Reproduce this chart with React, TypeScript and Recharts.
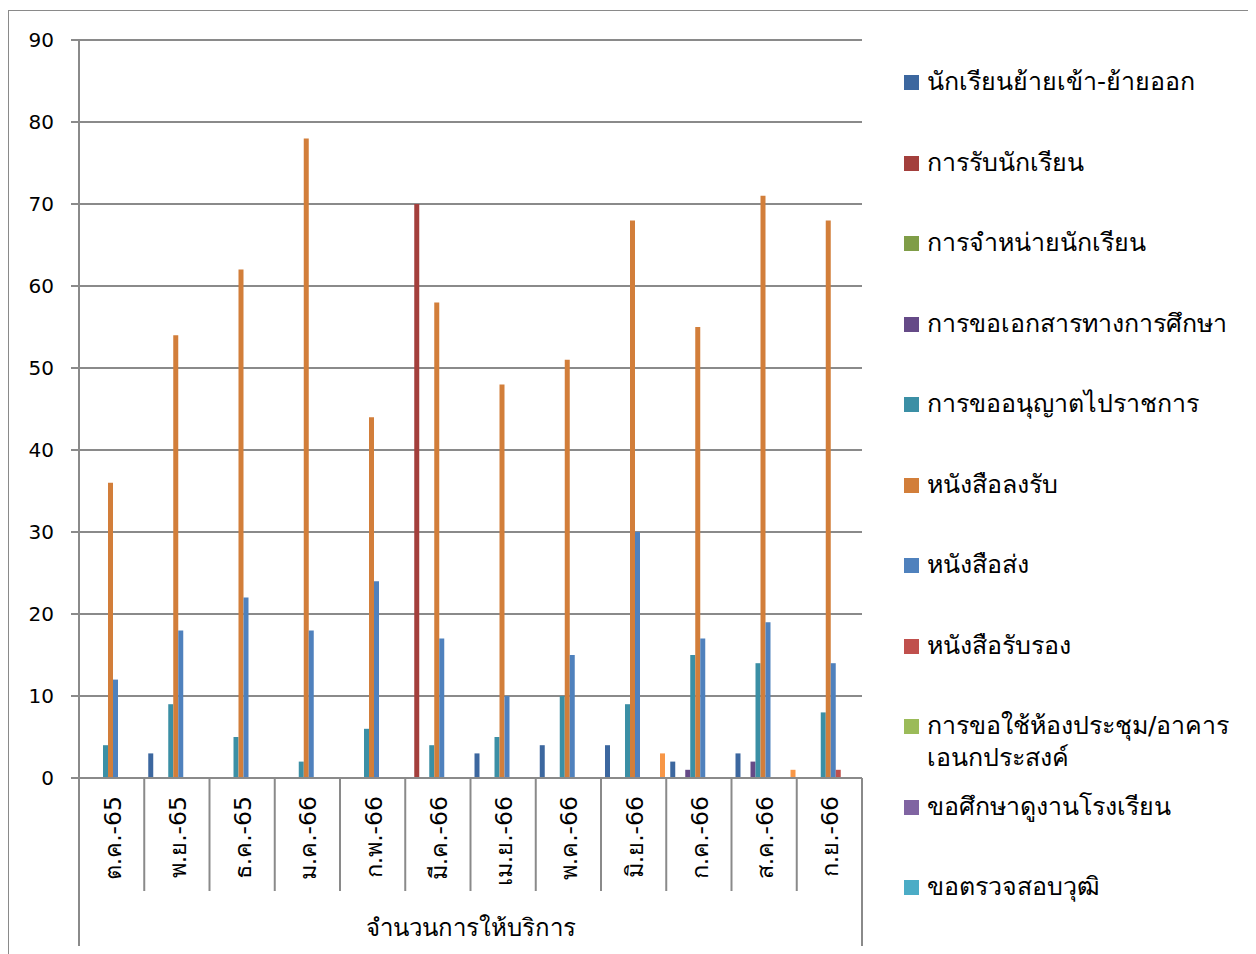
import React from 'react';
import { BarChart, Bar, XAxis, YAxis, CartesianGrid, Legend } from 'recharts';

const months = ['ต.ค.-65', 'พ.ย.-65', 'ธ.ค.-65', 'ม.ค.-66', 'ก.พ.-66', 'มี.ค.-66', 'เม.ย.-66', 'พ.ค.-66', 'มิ.ย.-66', 'ก.ค.-66', 'ส.ค.-66', 'ก.ย.-66'];
const groupLabel = 'จำนวนการให้บริการ';
const yTicks = [0, 10, 20, 30, 40, 50, 60, 70, 80, 90];

const transfers = [0, 3, 0, 0, 0, 0, 3, 4, 4, 2, 3, 0];
const admissions = [0, 0, 0, 0, 0, 70, 0, 0, 0, 0, 0, 0];
const withdrawals = [0, 0, 0, 0, 0, 0, 0, 0, 0, 0, 0, 0];
const documentRequests = [0, 0, 0, 0, 0, 0, 0, 0, 0, 1, 2, 0];
const travelPermits = [4, 9, 5, 2, 6, 4, 5, 10, 9, 15, 14, 8];
const lettersIn = [36, 54, 62, 78, 44, 58, 48, 51, 68, 55, 71, 68];
const lettersOut = [12, 18, 22, 18, 24, 17, 10, 15, 30, 17, 19, 14];
const certificates = [0, 0, 0, 0, 0, 0, 0, 0, 0, 0, 0, 1];
const roomRequests = [0, 0, 0, 0, 0, 0, 0, 0, 0, 0, 0, 0];
const studyVisits = [0, 0, 0, 0, 0, 0, 0, 0, 0, 0, 0, 0];
const qualificationChecks = [0, 0, 0, 0, 0, 0, 0, 0, 0, 0, 0, 0];
const otherRequests = [0, 0, 0, 0, 0, 0, 0, 0, 3, 0, 1, 0];

const series = [
  { key: 's0', name: 'นักเรียนย้ายเข้า-ย้ายออก', color: '#3C679F', values: transfers, inLegend: true },
  { key: 's1', name: 'การรับนักเรียน', color: '#A33F3C', values: admissions, inLegend: true },
  { key: 's2', name: 'การจำหน่ายนักเรียน', color: '#7F9D47', values: withdrawals, inLegend: true },
  { key: 's3', name: 'การขอเอกสารทางการศึกษา', color: '#654A87', values: documentRequests, inLegend: true },
  { key: 's4', name: 'การขออนุญาตไปราชการ', color: '#3B8FA5', values: travelPermits, inLegend: true },
  { key: 's5', name: 'หนังสือลงรับ', color: '#D27E3A', values: lettersIn, inLegend: true },
  { key: 's6', name: 'หนังสือส่ง', color: '#4F81BD', values: lettersOut, inLegend: true },
  { key: 's7', name: 'หนังสือรับรอง', color: '#C0504D', values: certificates, inLegend: true },
  { key: 's8', name: 'การขอใช้ห้องประชุม/อาคารเอนกประสงค์', color: '#9BBB59', values: roomRequests, inLegend: true },
  { key: 's9', name: 'ขอศึกษาดูงานโรงเรียน', color: '#8064A2', values: studyVisits, inLegend: true },
  { key: 's10', name: 'ขอตรวจสอบวุฒิ', color: '#4BACC6', values: qualificationChecks, inLegend: true },
  { key: 's11', name: 'อื่น ๆ', color: '#F79646', values: otherRequests, inLegend: false },
];

const data = months.map((month, i) => {
  const row: Record<string, any> = { month };
  series.forEach((s) => { row[s.key] = s.values[i]; });
  return row;
});

const FONT = "Tahoma, 'DejaVu Sans', 'Noto Sans', sans-serif";
const LINE = '#8a8a8a';

const MonthTick = (props: any) => {
  const { x, y, payload, index } = props;
  const half = payload.offset ?? 32.6;
  const last = index === months.length - 1;
  const ty = y + 18;
  return (
    <g>
      <line x1={x - half} y1={y} x2={x - half} y2={y + (index === 0 ? 168 : 113)} stroke={LINE} strokeWidth={2} />
      {last && <line x1={x + half} y1={y} x2={x + half} y2={y + 168} stroke={LINE} strokeWidth={2} />}
      <text
        x={x + 1}
        y={ty}
        transform={`rotate(-90 ${x + 1} ${ty})`}
        textAnchor="end"
        dominantBaseline="central"
        fontSize={23.5}
        fontFamily={FONT}
        fill="#000"
      >
        {payload.value}
      </text>
    </g>
  );
};

const renderLegend = () => (
  <div style={{ position: 'relative', fontFamily: FONT }}>
    {series.filter((s) => s.inLegend).map((s, i) => (
      <div key={s.key} style={{ position: 'absolute', top: i * 80.5, left: 0, display: 'flex', alignItems: 'flex-start' }}>
        <span style={{ width: 15, height: 15, background: s.color, marginTop: 9, flex: 'none' }} />
        <span style={{ marginLeft: 8, fontSize: 25, lineHeight: '32px', width: 320, color: '#000' }}>{s.name}</span>
      </div>
    ))}
  </div>
);

export default function App() {
  return (
    <div style={{ marginTop: 2, width: 1244, height: 950, border: `1px solid ${LINE}`, background: '#fff' }}>
      <BarChart
        width={1244}
        height={943}
        data={data}
        margin={{ top: 29, right: 391, left: 0, bottom: 0 }}
        barCategoryGap={4}
        barGap={0}
      >
        <CartesianGrid vertical={false} stroke={LINE} strokeWidth={2} />
        <XAxis
          dataKey="month"
          height={176}
          tickLine={false}
          tickSize={0}
          tickMargin={0}
          interval={0}
          axisLine={{ stroke: LINE, strokeWidth: 2 }}
          tick={<MonthTick />}
          label={{ value: groupLabel, position: 'insideBottom', offset: 18, fontSize: 24, fill: '#000', fontFamily: FONT }}
        />
        <YAxis
          width={70}
          domain={[0, 90]}
          ticks={yTicks}
          interval={0}
          tickSize={8}
          tickMargin={17}
          axisLine={{ stroke: LINE, strokeWidth: 2 }}
          tickLine={{ stroke: LINE, strokeWidth: 2 }}
          tick={{ fontSize: 20, fill: '#000', fontFamily: "'DejaVu Sans', sans-serif" }}
        />
        <Legend
          layout="vertical"
          align="center"
          verticalAlign="middle"
          content={renderLegend}
          wrapperStyle={{ position: 'absolute', left: 895, top: 55, width: 350, height: 0 }}
        />
        {series.map((s) => (
          <Bar key={s.key} dataKey={s.key} name={s.name} fill={s.color} isAnimationActive={false} legendType={s.inLegend ? 'square' : 'none'} />
        ))}
      </BarChart>
    </div>
  );
}
